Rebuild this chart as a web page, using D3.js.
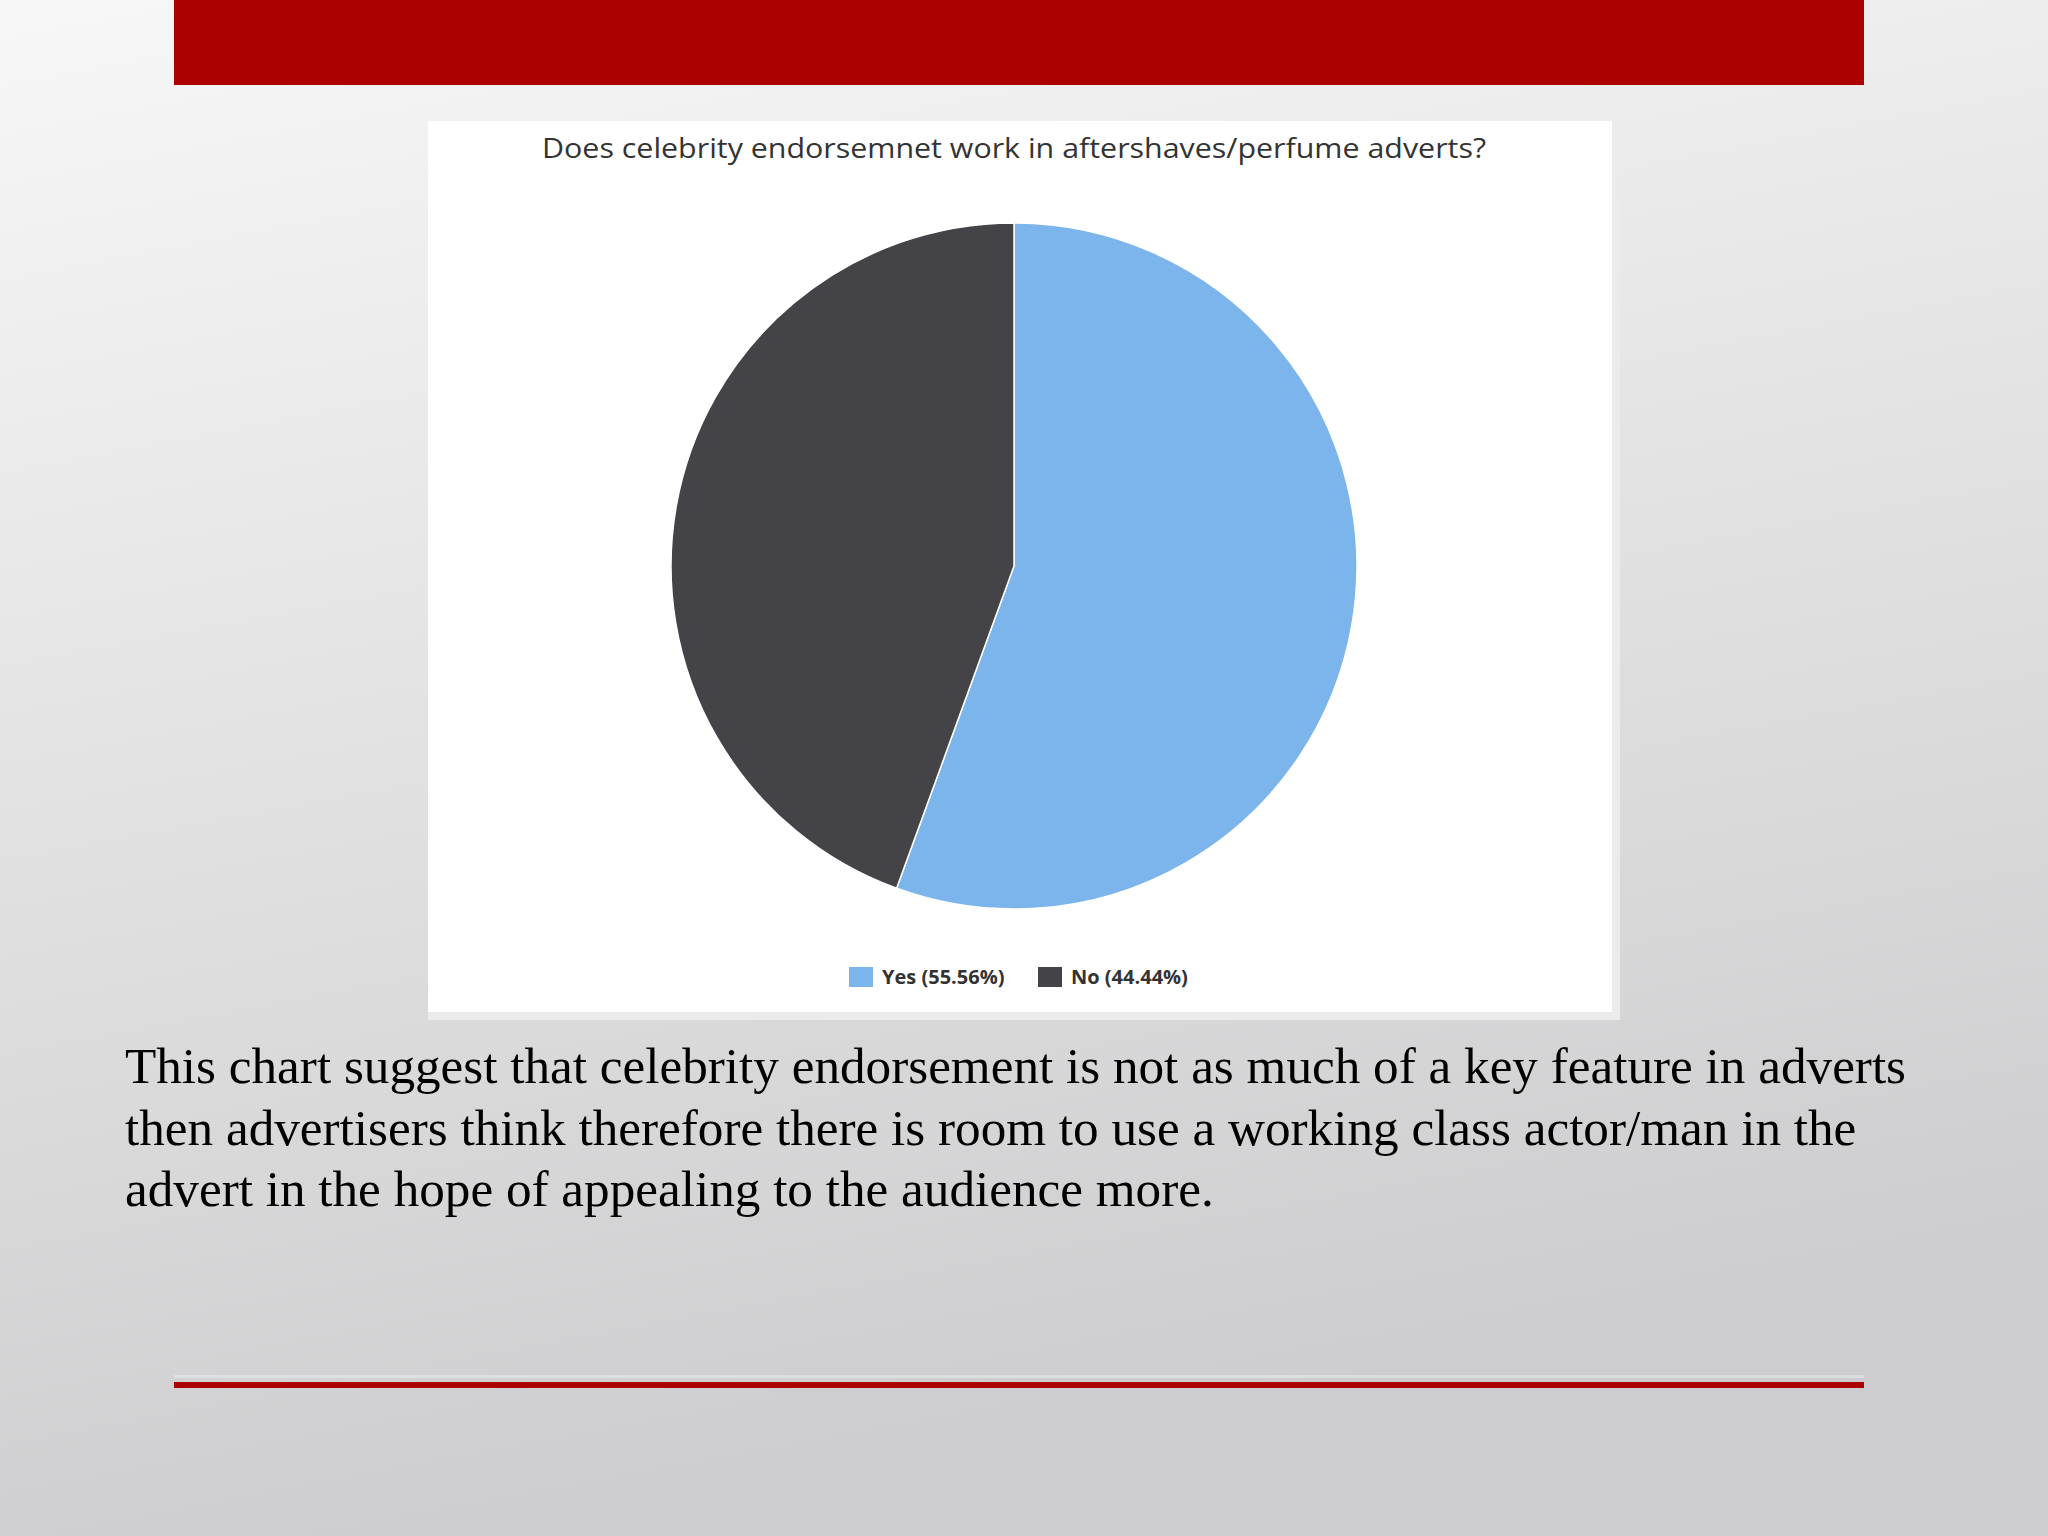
<!DOCTYPE html>
<html>
<head>
<meta charset="utf-8">
<script src="https://cdn.jsdelivr.net/npm/d3@7"></script>
<style>
  html, body { margin: 0; padding: 0; background: #ddd; }
  svg { display: block; }
</style>
</head>
<body>
<svg id="chart" width="2048" height="1536"></svg>
<script>
const chartTitle = "Does celebrity endorsemnet work in aftershaves/perfume adverts?";
const categories = ["Yes", "No"];
const values = [55.56, 44.44];
const colors = ["#7cb5ec", "#434348"];
const captionLines = [
  "This chart suggest that celebrity endorsement is not as much of a key feature in adverts",
  "then advertisers think therefore there is room to use a working class actor/man in the",
  "advert in the hope of appealing to the audience more."
];

const W = 2048, H = 1536;
const svg = d3.select("#chart");
const defs = svg.append("defs");

// slide background gradient
const bg = defs.append("linearGradient").attr("id", "bg")
  .attr("x1", "0").attr("y1", "0").attr("x2", "0.25").attr("y2", "1");
bg.append("stop").attr("offset", "0").attr("stop-color", "#f7f7f7");
bg.append("stop").attr("offset", "0.45").attr("stop-color", "#e4e4e5");
bg.append("stop").attr("offset", "1").attr("stop-color", "#cdcdcf");
svg.append("rect").attr("width", W).attr("height", H).attr("fill", "url(#bg)");

// top red bar
svg.append("rect").attr("x", 174).attr("y", 0).attr("width", 1690).attr("height", 85).attr("fill", "#ad0000");

// bottom red line
svg.append("rect").attr("x", 174).attr("y", 1375).attr("width", 1690).attr("height", 3).attr("fill", "#e3e7e9").attr("opacity", 0.7);
svg.append("rect").attr("x", 174).attr("y", 1382).attr("width", 1690).attr("height", 6).attr("fill", "#ad0000");

// chart panel
svg.append("rect").attr("x", 428).attr("y", 121).attr("width", 1192).attr("height", 899).attr("fill", "#ebebeb");
svg.append("rect").attr("x", 428).attr("y", 121).attr("width", 1184).attr("height", 891).attr("fill", "#ffffff");

// title
svg.append("text")
  .attr("x", 1014).attr("y", 158)
  .attr("text-anchor", "middle")
  .attr("font-family", "'Open Sans', 'DejaVu Sans', sans-serif")
  .attr("font-size", 28)
  .attr("fill", "#333333")
  .attr("textLength", 944)
  .attr("lengthAdjust", "spacingAndGlyphs")
  .text(chartTitle);

// pie
const cx = 1014, cy = 566, R = 343;
const data = categories.map((c, i) => ({ cat: c, value: values[i], color: colors[i] }));
const pie = d3.pie().value(d => d.value).sort(null);
const arc = d3.arc().innerRadius(0).outerRadius(R);
svg.append("g").attr("transform", `translate(${cx},${cy})`)
  .selectAll("path").data(pie(data)).join("path")
  .attr("d", arc)
  .attr("fill", d => d.data.color)
  .attr("stroke", "#ffffff")
  .attr("stroke-width", 1.5)
  .attr("stroke-linejoin", "round");

// legend
const legendX = [849, 1038];
const legendY = 977;
const lg = svg.append("g");
data.forEach((d, i) => {
  lg.append("rect")
    .attr("x", legendX[i]).attr("y", legendY - 10)
    .attr("width", 24).attr("height", 20)
    .attr("fill", d.color);
  lg.append("text")
    .attr("x", legendX[i] + 33).attr("y", legendY + 7)
    .attr("font-family", "'Open Sans', 'DejaVu Sans', sans-serif")
    .attr("font-size", 20)
    .attr("font-weight", "bold")
    .attr("fill", "#333333")
    .text(`${d.cat} (${d.value.toFixed(2)}%)`);
});

// caption paragraph
const cap = svg.append("g");
captionLines.forEach((line, i) => {
  cap.append("text")
    .attr("x", 125).attr("y", 1083 + i * 61.5)
    .attr("font-family", "'Liberation Serif', 'Times New Roman', serif")
    .attr("font-size", 51.2)
    .attr("fill", "#000000")
    .text(line);
});
</script>
</body>
</html>
